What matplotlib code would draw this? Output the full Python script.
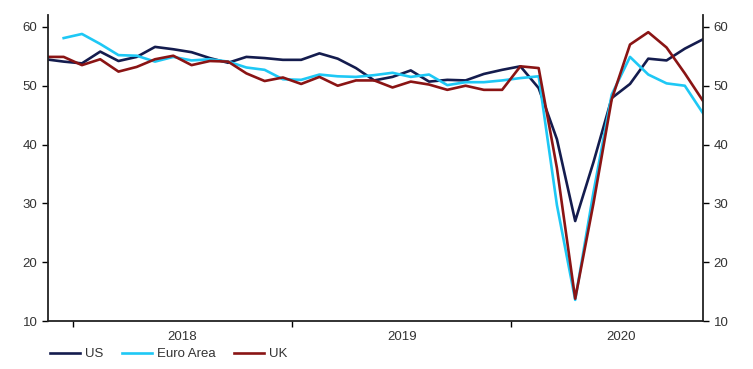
import matplotlib.pyplot as plt
import numpy as np

# composite PMI, monthly; Nov 2017 .. Nov 2020
us = [54.5, 54.1,
      53.8, 55.8, 54.2, 54.9, 56.6, 56.2, 55.7, 54.7, 53.9, 54.9, 54.7, 54.4,
      54.4, 55.5, 54.6, 53.0, 50.9, 51.5, 52.6, 50.7, 51.0, 50.9, 52.0, 52.7,
      53.3, 49.6, 40.9, 27.0, 37.0, 47.9, 50.3, 54.6, 54.3, 56.3, 57.9]
# euro area starts Dec 2017
ea = [58.1,
      58.8, 57.1, 55.2, 55.1, 54.1, 54.9, 54.3, 54.5, 54.1, 53.1, 52.7, 51.1,
      51.0, 51.9, 51.6, 51.5, 51.8, 52.2, 51.5, 51.9, 50.1, 50.6, 50.6, 50.9,
      51.3, 51.6, 29.7, 13.6, 31.9, 48.5, 54.9, 51.9, 50.4, 50.0, 45.3]
uk = [54.9, 54.9,
      53.5, 54.5, 52.4, 53.2, 54.5, 55.1, 53.5, 54.2, 54.1, 52.1, 50.8, 51.4,
      50.3, 51.5, 50.0, 50.9, 50.9, 49.7, 50.7, 50.2, 49.3, 50.0, 49.3, 49.3,
      53.3, 53.0, 36.0, 13.8, 30.0, 47.7, 57.0, 59.1, 56.5, 52.1, 47.4]
years = ['2018', '2019', '2020']

# x in months since Jan 2018, points at mid-month
x_us = np.arange(len(us)) - 2 + 0.5
x_ea = np.arange(len(ea)) - 1 + 0.5
x_uk = np.arange(len(uk)) - 2 + 0.5

plt.rcParams['font.family'] = ['Liberation Sans Narrow', 'Liberation Sans', 'DejaVu Sans']

fig = plt.figure(figsize=(7.53, 3.69), dpi=100)
ax = fig.add_axes([0.0637, 0.130, 0.8700, 0.829])

ax.plot(x_us, us, color='#141c4e', lw=1.9, label='US')
ax.plot(x_ea, ea, color='#1ec8f5', lw=1.9, label='Euro Area')
ax.plot(x_uk, uk, color='#8a1414', lw=1.9, label='UK')

ax.set_xlim(-1.36, 34.5)
ax.set_ylim(10, 62)
ax.set_yticks([10, 20, 30, 40, 50, 60])

ax.set_xticks([0, 12, 24])
ax.set_xticklabels([])
ax.set_xticks([6, 18, 30], minor=True)
ax.set_xticklabels(years, minor=True)
ax.tick_params(axis='x', which='minor', length=0, pad=7, labelsize=9.5, labelcolor='#333333')
ax.tick_params(axis='x', which='major', length=4, width=1, direction='out')
ax.tick_params(axis='y', length=4, width=1, direction='out', labelsize=9.5,
               labelcolor='#333333', left=True, right=True, labelleft=True, labelright=True)

ax.spines['top'].set_visible(False)
for s in ['left', 'right', 'bottom']:
    ax.spines[s].set_linewidth(1.3)
    ax.spines[s].set_color('#222222')

leg = ax.legend(loc='center left', bbox_to_anchor=(0.003, -0.108), ncol=3, frameon=False,
                fontsize=9.5, handlelength=2.3, columnspacing=1.4, handletextpad=0.35,
                borderaxespad=0, borderpad=0)
for t in leg.get_texts():
    t.set_color('#333333')

fig.savefig('out.png', dpi=100)
